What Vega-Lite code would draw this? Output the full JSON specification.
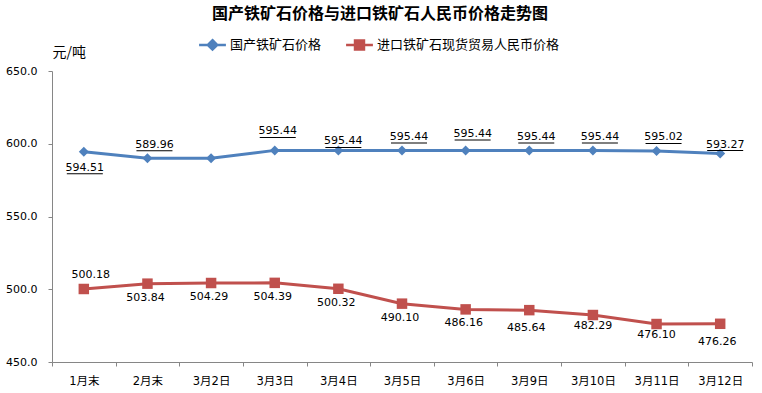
{
  "$schema": "https://vega.github.io/schema/vega-lite/v6.json",
  "autosize": "none",
  "width": 700,
  "height": 291,
  "padding": {"left": 52, "top": 71, "right": 10, "bottom": 31},
  "background": "white",
  "title": {"text": "国产铁矿石价格与进口铁矿石人民币价格走势图", "font": "Noto Sans CJK SC", "fontSize": 16, "fontWeight": "bold", "color": "#000000", "anchor": "middle", "dx": -22, "offset": 10},
  "data": {"values": [
    {"date": "1月末", "series": "国产铁矿石价格", "value": 594.51},
    {"date": "2月末", "series": "国产铁矿石价格", "value": 589.96},
    {"date": "3月2日", "series": "国产铁矿石价格", "value": 589.96},
    {"date": "3月3日", "series": "国产铁矿石价格", "value": 595.44},
    {"date": "3月4日", "series": "国产铁矿石价格", "value": 595.44},
    {"date": "3月5日", "series": "国产铁矿石价格", "value": 595.44},
    {"date": "3月6日", "series": "国产铁矿石价格", "value": 595.44},
    {"date": "3月9日", "series": "国产铁矿石价格", "value": 595.44},
    {"date": "3月10日", "series": "国产铁矿石价格", "value": 595.44},
    {"date": "3月11日", "series": "国产铁矿石价格", "value": 595.02},
    {"date": "3月12日", "series": "国产铁矿石价格", "value": 593.27},
    {"date": "1月末", "series": "进口铁矿石现货贸易人民币价格", "value": 500.18},
    {"date": "2月末", "series": "进口铁矿石现货贸易人民币价格", "value": 503.84},
    {"date": "3月2日", "series": "进口铁矿石现货贸易人民币价格", "value": 504.29},
    {"date": "3月3日", "series": "进口铁矿石现货贸易人民币价格", "value": 504.39},
    {"date": "3月4日", "series": "进口铁矿石现货贸易人民币价格", "value": 500.32},
    {"date": "3月5日", "series": "进口铁矿石现货贸易人民币价格", "value": 490.10},
    {"date": "3月6日", "series": "进口铁矿石现货贸易人民币价格", "value": 486.16},
    {"date": "3月9日", "series": "进口铁矿石现货贸易人民币价格", "value": 485.64},
    {"date": "3月10日", "series": "进口铁矿石现货贸易人民币价格", "value": 482.29},
    {"date": "3月11日", "series": "进口铁矿石现货贸易人民币价格", "value": 476.10},
    {"date": "3月12日", "series": "进口铁矿石现货贸易人民币价格", "value": 476.26}
  ]},
  "encoding": {
    "x": {"field": "date", "type": "ordinal", "sort": ["1月末", "2月末", "3月2日", "3月3日", "3月4日", "3月5日", "3月6日", "3月9日", "3月10日", "3月11日", "3月12日"],
      "scale": {"type": "band", "paddingInner": 0, "paddingOuter": 0}, "bandPosition": 0.5,
      "axis": {"title": null, "tickBand": "extent", "labelAngle": 0, "domainColor": "#868686", "tickColor": "#868686", "tickSize": 4, "labelPadding": 9, "labelFont": "DejaVu Sans, Noto Sans CJK SC", "labelFontSize": 11.5, "labelColor": "#000000"}},
    "y": {"field": "value", "type": "quantitative", "scale": {"domain": [450, 650], "nice": false, "zero": false},
      "axis": {"values": [450, 500, 550, 600, 650], "format": ".1f", "grid": false, "title": "元/吨", "titleAngle": 0, "titleX": 0, "titleY": -19, "titleAlign": "left", "titleBaseline": "middle", "titleFont": "Noto Sans CJK SC", "titleFontSize": 14, "titleFontWeight": "normal", "titleColor": "#000000", "domainColor": "#868686", "tickColor": "#868686", "tickSize": 4, "labelPadding": 11, "labelFont": "DejaVu Sans", "labelFontSize": 11, "labelColor": "#000000"}},
    "color": {"field": "series", "type": "nominal", "scale": {"domain": ["国产铁矿石价格", "进口铁矿石现货贸易人民币价格"], "range": ["#4F81BD", "#C0504D"]},
      "legend": {"title": null, "orient": "none", "legendX": 148, "legendY": -39, "direction": "horizontal", "padding": 0, "symbolSize": 500, "labelOffset": 5, "columnPadding": 19, "labelLimit": 0, "labelFont": "Noto Sans CJK SC", "labelFontSize": 13, "labelColor": "#000000",
        "encode": {"symbols": {"update": {
          "shape": {"signal": "datum.value === '国产铁矿石价格' ? 'M-1.2,0H1.2M0,-0.42L0.42,0L0,0.42L-0.42,0Z' : 'M-1.2,0H1.2M-0.4,-0.4H0.4V0.4H-0.4Z'"},
          "fill": {"signal": "datum.value === '国产铁矿石价格' ? '#4F81BD' : '#C0504D'"},
          "stroke": {"signal": "datum.value === '国产铁矿石价格' ? '#4F81BD' : '#C0504D'"},
          "strokeWidth": {"value": 2.5},
          "opacity": {"value": 1}
        }}}
      }
    }
  },
  "layer": [
    {"mark": {"type": "line", "strokeWidth": 3}},
    {"transform": [{"filter": {"field": "series", "equal": "国产铁矿石价格"}}],
     "mark": {"type": "point", "shape": "diamond", "filled": true, "opacity": 1, "size": 100}},
    {"transform": [{"filter": {"field": "series", "equal": "进口铁矿石现货贸易人民币价格"}}],
     "mark": {"type": "point", "shape": "square", "filled": true, "opacity": 1, "size": 110}},
    {"transform": [{"filter": {"and": [{"field": "series", "equal": "国产铁矿石价格"}, {"field": "date", "oneOf": ["1月末"]}]}}],
     "layer": [
       {"mark": {"type": "text", "dy": 16, "dx": 1, "baseline": "middle", "font": "DejaVu Sans", "fontSize": 11}, "encoding": {"color": {"value": "#000000"}, "text": {"field": "value", "type": "quantitative", "format": ".2f"}}},
       {"mark": {"type": "tick", "orient": "horizontal", "yOffset": 22, "xOffset": 1, "size": 36, "thickness": 1, "opacity": 1}, "encoding": {"color": {"value": "#000000"}}}
     ]},
    {"transform": [{"filter": {"and": [{"field": "series", "equal": "国产铁矿石价格"}, {"field": "date", "oneOf": ["2月末", "3月5日", "3月9日", "3月10日", "3月11日"]}]}}],
     "layer": [
       {"mark": {"type": "text", "dy": -13.5, "dx": 7, "baseline": "middle", "font": "DejaVu Sans", "fontSize": 11}, "encoding": {"color": {"value": "#000000"}, "text": {"field": "value", "type": "quantitative", "format": ".2f"}}},
       {"mark": {"type": "tick", "orient": "horizontal", "yOffset": -7.5, "xOffset": 7, "size": 36, "thickness": 1, "opacity": 1}, "encoding": {"color": {"value": "#000000"}}}
     ]},
    {"transform": [{"filter": {"and": [{"field": "series", "equal": "国产铁矿石价格"}, {"field": "date", "oneOf": ["3月3日"]}]}}],
     "layer": [
       {"mark": {"type": "text", "dy": -19, "dx": 3, "baseline": "middle", "font": "DejaVu Sans", "fontSize": 11}, "encoding": {"color": {"value": "#000000"}, "text": {"field": "value", "type": "quantitative", "format": ".2f"}}},
       {"mark": {"type": "tick", "orient": "horizontal", "yOffset": -13, "xOffset": 3, "size": 36, "thickness": 1, "opacity": 1}, "encoding": {"color": {"value": "#000000"}}}
     ]},
    {"transform": [{"filter": {"and": [{"field": "series", "equal": "国产铁矿石价格"}, {"field": "date", "oneOf": ["3月6日"]}]}}],
     "layer": [
       {"mark": {"type": "text", "dy": -16.5, "dx": 7, "baseline": "middle", "font": "DejaVu Sans", "fontSize": 11}, "encoding": {"color": {"value": "#000000"}, "text": {"field": "value", "type": "quantitative", "format": ".2f"}}},
       {"mark": {"type": "tick", "orient": "horizontal", "yOffset": -10.5, "xOffset": 7, "size": 36, "thickness": 1, "opacity": 1}, "encoding": {"color": {"value": "#000000"}}}
     ]},
    {"transform": [{"filter": {"and": [{"field": "series", "equal": "国产铁矿石价格"}, {"field": "date", "oneOf": ["3月4日", "3月12日"]}]}}],
     "layer": [
       {"mark": {"type": "text", "dy": -9, "dx": 5, "baseline": "middle", "font": "DejaVu Sans", "fontSize": 11}, "encoding": {"color": {"value": "#000000"}, "text": {"field": "value", "type": "quantitative", "format": ".2f"}}},
       {"mark": {"type": "tick", "orient": "horizontal", "yOffset": -3, "xOffset": 5, "size": 36, "thickness": 1, "opacity": 1}, "encoding": {"color": {"value": "#000000"}}}
     ]},
    {"transform": [{"filter": {"and": [{"field": "series", "equal": "进口铁矿石现货贸易人民币价格"}, {"field": "date", "oneOf": ["1月末"]}]}}],
     "mark": {"type": "text", "dy": -14, "dx": 7, "baseline": "middle", "font": "DejaVu Sans", "fontSize": 11}, "encoding": {"color": {"value": "#000000"}, "text": {"field": "value", "type": "quantitative", "format": ".2f"}}},
    {"transform": [{"filter": {"and": [{"field": "series", "equal": "进口铁矿石现货贸易人民币价格"}, {"field": "date", "oneOf": ["2月末", "3月2日", "3月3日", "3月4日", "3月5日", "3月6日"]}]}}],
     "mark": {"type": "text", "dy": 14, "dx": -2, "baseline": "middle", "font": "DejaVu Sans", "fontSize": 11}, "encoding": {"color": {"value": "#000000"}, "text": {"field": "value", "type": "quantitative", "format": ".2f"}}},
    {"transform": [{"filter": {"and": [{"field": "series", "equal": "进口铁矿石现货贸易人民币价格"}, {"field": "date", "oneOf": ["3月9日", "3月12日"]}]}}],
     "mark": {"type": "text", "dy": 18, "dx": -3, "baseline": "middle", "font": "DejaVu Sans", "fontSize": 11}, "encoding": {"color": {"value": "#000000"}, "text": {"field": "value", "type": "quantitative", "format": ".2f"}}},
    {"transform": [{"filter": {"and": [{"field": "series", "equal": "进口铁矿石现货贸易人民币价格"}, {"field": "date", "oneOf": ["3月10日", "3月11日"]}]}}],
     "mark": {"type": "text", "dy": 10.5, "dx": 0, "baseline": "middle", "font": "DejaVu Sans", "fontSize": 11}, "encoding": {"color": {"value": "#000000"}, "text": {"field": "value", "type": "quantitative", "format": ".2f"}}}
  ],
  "config": {"view": {"stroke": null}, "axis": {"grid": false}}
}
